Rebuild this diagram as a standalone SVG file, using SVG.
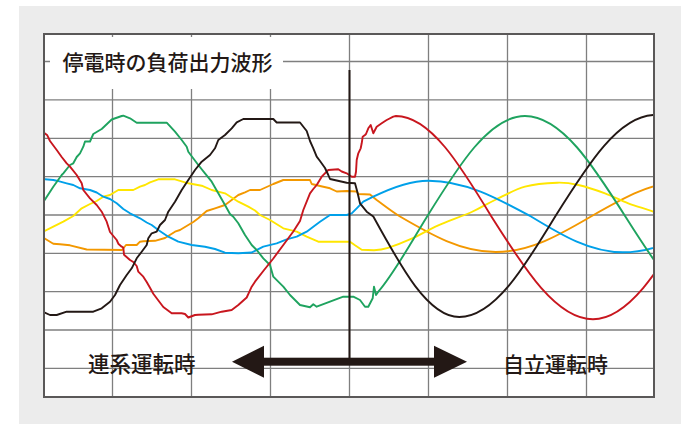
<svg xmlns="http://www.w3.org/2000/svg" width="690" height="424" viewBox="0 0 690 424">
<style>
.grid{stroke:#7f7f7f;stroke-width:1.3;fill:none}
.wave{fill:none;stroke-width:1.9;stroke-linejoin:round;stroke-linecap:round}
.lbl{font-family:"Noto Sans CJK JP","Noto Sans CJK SC",sans-serif;font-weight:500;fill:#231815}
</style>
<defs>
<clipPath id="plot"><rect x="45" y="35" width="608" height="361"/></clipPath>
</defs>
<rect x="19" y="6" width="662" height="418" fill="#ececec"/>
<g id="plot-area">
<rect x="44" y="34" width="610" height="363" fill="#ffffff"/>
<g id="grid" class="grid">
<line x1="112.5" y1="34" x2="112.5" y2="397"/>
<line x1="191.5" y1="34" x2="191.5" y2="397"/>
<line x1="270.5" y1="34" x2="270.5" y2="397"/>
<line x1="349.5" y1="34" x2="349.5" y2="397"/>
<line x1="428.5" y1="34" x2="428.5" y2="397"/>
<line x1="507.5" y1="34" x2="507.5" y2="397"/>
<line x1="586.5" y1="34" x2="586.5" y2="397"/>
<line x1="44" y1="61.5" x2="654" y2="61.5"/>
<line x1="44" y1="99.9" x2="654" y2="99.9"/>
<line x1="44" y1="138.3" x2="654" y2="138.3"/>
<line x1="44" y1="176.7" x2="654" y2="176.7"/>
<line x1="44" y1="215" x2="654" y2="215"/>
<line x1="44" y1="253.3" x2="654" y2="253.3"/>
<line x1="44" y1="291.7" x2="654" y2="291.7"/>
<line x1="44" y1="330" x2="654" y2="330"/>
<line x1="44" y1="368.4" x2="654" y2="368.4"/>
</g>
<rect x="44" y="34" width="610" height="363" fill="none" stroke="#5a5858" stroke-width="2"/>
</g>
<g id="title">
<rect x="50" y="37" width="233" height="52" fill="#ffffff"/>
<text class="lbl" x="62.5" y="69.5" font-size="21">停電時の負荷出力波形</text>
</g>
<g id="waveforms" clip-path="url(#plot)">
<path id="wave-orange" class="wave" stroke="#f39800" d="M44.7,238.5 L50,241.7 53.3,243.7 60,244.3 70,245.3 86.7,249.5 122,250 126,245 136.7,245 140,241.7 143.3,241.3 155,240.8 165,238 175,231.7 180,230 188.3,225 193.3,222 198.3,218.3 206.7,211 215,208.3 225,205 231.7,200 238.3,195 245,192.3 250,190 260,190 273.3,184 283.3,180 310,180 311.7,184 320,186 330,188.3 336.7,191.5 346.7,191 356.7,191.5 358.3,194 370,194.5 376.7,200 C385,206 392,211.6 400,216.5 C431.2,234.7 461.1,252 495.7,252 C530.2,252 559.9,234.7 591,216.5 C622.6,198.3 652.9,181 688,181"/>
<path id="wave-yellow" class="wave" stroke="#ffe600" d="M44.7,231 L53.3,226.7 63.3,221.7 73.3,216 81.7,208.3 90,204 96.7,201 103.3,196.7 110,195 118.3,190 133.3,190 140,186.7 145,185 150,182.3 158.3,179.3 175,179.3 188.3,183.3 201.7,185.7 211.7,190 225,193.3 238.3,201.7 248.3,206.7 255,210.5 260,215 270,220 283.3,228.3 296.7,231.7 306.7,236.7 318.3,241.7 350,241.7 355,245.3 361.7,249.7 374,250.3 C378.4,250 381.7,249.7 388,247.8 C394.3,245.9 403.3,242.5 411.7,238.7 C420.1,234.9 428.3,229.8 438.3,225.3 C448.3,220.9 462.3,216.2 471.7,212 C481.2,207.8 486.1,204.2 495,200 C503.9,195.8 514.6,189.6 525,186.7 C535.4,183.8 548.4,183 557.3,182.7 C566.2,182.4 570.4,183.2 578.3,185 C586.3,186.8 596.7,190.3 605,193.3 C613.3,196.4 620.1,200.2 628.3,203.3 C636.5,206.4 645.7,208.9 654.3,212 L662,215"/>
<path id="wave-blue" class="wave" stroke="#00a0e9" d="M44.7,179.3 L53.3,180 56.7,180.7 66.7,183.3 73.3,185 80,188.3 90,190 96.7,192.5 103.3,196.7 110,199 116.7,203.3 123.3,209 130,213.3 140,218.3 146.7,222.5 151.7,225 158.3,230 168.3,236.7 178.3,241.7 191.7,245 205,246.7 215,249 225,252.7 238.3,253.3 251.7,252.5 263.3,246.7 276.7,243.3 286.7,239.3 296.7,236.7 306.7,231.7 313.3,226.7 320,221.7 330,215 346.7,215 351.7,213.3 356.7,208.3 363.3,201.7 373.3,196.7 C388,189.5 410,180.7 428.3,180.7 C465.5,180.7 497.5,198.3 531,216.5 C561,234.7 589.7,252.3 623,252.3 C657.4,252.3 687,234.7 718,216.5"/>
<path id="wave-green" class="wave" stroke="#1fa35f" d="M44.7,200 L53.3,186.7 61.7,175 63.3,173.3 70,165 73.3,163.3 76.7,157 80,153.3 83.3,146.7 85,141.5 90,141.5 93.3,134 100,130 101.7,129 111.7,119.5 121.7,116 123.3,115.7 130,118.3 136.7,122.7 166.7,122.7 175,131.7 181.7,140 186.7,146.7 188.3,151.7 198.3,165 205,173.3 211.7,181.7 218.3,193.3 225,205 230,214 233.3,216.7 238.3,223.3 245,235 251.7,245 256.7,250 263.3,258.3 270,265 273.3,276.7 283.3,286.7 290,295 300,305 310,307.3 313.3,304.3 316.7,306.7 330,301.7 343.3,296.7 353.3,296.7 360,300 365,306.7 368.3,306.7 372.7,298.3 374,286.7 376,295 378.3,291.7 C394.4,273 410.4,243.5 426.5,217.5 C458.6,165.5 489.4,116 525,116 C561.6,116 593.1,165.5 626,217.5 C658.9,269.5 690.4,319 727,319"/>
<path id="wave-red" class="wave" stroke="#c8161e" d="M44.7,133.3 L47.3,135.3 50,141 56.7,150 61.7,157 66.7,163.3 70,166.7 76.7,175 81.7,183.3 83.3,190 90,198.3 96.7,205 101.7,211.7 106.7,221.7 110,232 116.7,240 118.3,243.7 121.7,246.7 123.3,247.5 124,254.7 130,260 133.3,262 136.7,266 138.3,271.7 143.3,276.7 146.7,282 150,287.7 153.3,293.7 158,300 163.3,307 171.7,313.3 181.7,313.3 185,314 188.3,317.5 195,315 198.3,314.7 211.7,314.3 221.7,311.7 231.7,310 238.3,305 246.7,297.5 251.7,286.7 255,281.7 263.3,271 273.3,258.5 283.3,245 293.3,231.5 300,221 303.3,210 310,193.3 313.3,189 316.7,185 321.7,176.7 328.3,170 338.3,169.3 341.7,171.5 346.7,173.3 351.7,176.7 355,176.7 356,171.7 356.7,160 358.3,153.3 360.7,148.3 361.7,143.3 362.7,136.7 365,135 366,134 368.3,128.3 370.7,125 373.3,133.3 375,130 376.7,126.7 381.7,123.3 386.7,120 393.3,116.7 396,116 C430.4,116 460.5,165.5 492,217.5 C524.9,269.5 556.4,319.3 593,319.3 C628.5,319.3 659,269.5 691,217.5"/>
<path id="wave-black" class="wave" stroke="#231815" d="M44.7,312.7 L50,315 56.7,315 66.7,311.7 93.3,311.7 101.7,308.3 110,301.7 115,295 120,285 126.7,275 131.7,268.3 136.7,258.3 141.7,251.7 146.7,245 148.3,238.3 151.7,233.3 156.7,231.7 160,225 165,220 168.3,211.7 175,201.7 181.7,190 188.3,180 195,170 201.7,161.7 210,155 215,148.3 218.3,140 225,135 231.7,128.3 236.7,122.3 243.3,119 273.3,119 276.7,122.5 300,122.5 306.7,131 310,141 313.3,148.3 316.7,156.7 320,161 325,168 328.3,175 330,179 336.7,180.5 346.7,182.7 355,183.3 357.3,191.7 360,203.3 366.7,211.7 373.3,216.5 C401.3,267.7 428.2,317 459.3,317 C494.1,317 524.1,267.7 555.5,216 C587.9,164.3 619,115 655,115 C680,115 700,125 720,140"/>
</g>
<g id="connectors" fill="#231815">
<line x1="349.5" y1="70" x2="349.5" y2="360" stroke="#231815" stroke-width="2"/>
<rect x="262" y="357.7" width="174" height="8"/>
<polygon points="232,361.7 264,345.7 264,377.7"/>
<polygon points="467,361.7 434,345.7 434,377.7"/>
</g>
<g id="label-grid">
<text class="lbl" x="88" y="372" font-size="21.5">連系運転時</text>
</g>
<g id="label-standalone">
<text class="lbl" x="503" y="372" font-size="21">自立運転時</text>
</g>
</svg>
